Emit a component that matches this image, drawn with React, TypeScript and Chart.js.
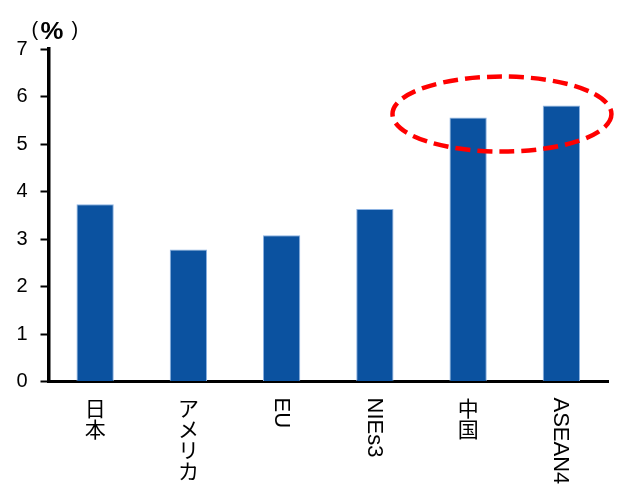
import React, { useEffect, useRef } from "react";
import { Chart, registerables } from "chart.js";

Chart.register(...registerables);

// Regions and their growth rates (%)
const categories = ["日本", "アメリカ", "EU", "NIEs3", "中国", "ASEAN4"];
const growthRates = [3.73, 2.78, 3.08, 3.63, 5.56, 5.81];
const yTickValues = [0, 1, 2, 3, 4, 5, 6, 7];
const unitLabel = ["(", "%", ")"];

// Dashed highlight ring, in data units: centre (category index, value) and radii
const highlightCenter = [4.363, 5.63];
const highlightRadii = [1.174, 0.79];

const LATIN_FONT = "Arial, 'Liberation Sans', sans-serif";
const CJK_FONT = "'Noto Sans CJK JP', sans-serif";

const isCJK = (ch: string) => ch.charCodeAt(0) >= 0x2e80;

const overlayPlugin = {
  id: "overlay",
  afterDatasetsDraw(chart: any) {
    const { ctx, scales } = chart;
    const x = scales.x;
    const y = scales.y;
    const cx = x.getPixelForValue(highlightCenter[0]);
    const cy = y.getPixelForValue(highlightCenter[1]);
    const rx = x.getPixelForValue(highlightCenter[0] + highlightRadii[0]) - cx;
    const ry = cy - y.getPixelForValue(highlightCenter[1] + highlightRadii[1]);
    ctx.save();
    ctx.beginPath();
    ctx.ellipse(cx, cy, rx, ry, 0, 0, Math.PI * 2);
    ctx.setLineDash([15, 7]);
    ctx.lineWidth = 4.5;
    ctx.strokeStyle = "#FF0000";
    ctx.stroke();
    ctx.restore();
  },
  afterDraw(chart: any) {
    const { ctx, chartArea, scales } = chart;
    const x = scales.x;
    ctx.save();
    ctx.fillStyle = "#000";

    // Category labels: CJK characters stacked upright, Latin runs turned clockwise
    const cjkSize = 21;
    const latinSize = 22;
    categories.forEach((label, i) => {
      const px = x.getPixelForValue(i);
      let py = chartArea.bottom + 16;
      let run = "";
      const flush = () => {
        if (!run) return;
        ctx.font = `${latinSize}px ${LATIN_FONT}`;
        const w = ctx.measureText(run).width;
        ctx.save();
        ctx.translate(px, py);
        ctx.rotate(Math.PI / 2);
        ctx.textAlign = "left";
        ctx.textBaseline = "middle";
        ctx.fillText(run, 0, 1);
        ctx.restore();
        py += w;
        run = "";
      };
      for (const ch of label) {
        if (isCJK(ch)) {
          flush();
          ctx.font = `${cjkSize}px ${CJK_FONT}`;
          ctx.textAlign = "center";
          ctx.textBaseline = "top";
          ctx.fillText(ch, px, py);
          py += cjkSize;
        } else {
          run += ch;
        }
      }
      flush();
    });

    // Unit label "(%)" above the value axis
    const left = chartArea.left;
    const top = chartArea.top;
    ctx.textAlign = "left";
    ctx.textBaseline = "alphabetic";
    ctx.font = `20px ${LATIN_FONT}`;
    ctx.fillText(unitLabel[0], left - 17, top - 13);
    ctx.save();
    ctx.translate(left - 8, top - 10);
    ctx.scale(1.12, 1);
    ctx.font = `bold 23px ${LATIN_FONT}`;
    ctx.fillText(unitLabel[1], 0, 0);
    ctx.restore();
    ctx.font = `20px ${LATIN_FONT}`;
    ctx.fillText(unitLabel[2], left + 23, top - 13);
    ctx.restore();
  },
};

export default function App() {
  const canvasRef = useRef<HTMLCanvasElement | null>(null);

  useEffect(() => {
    const canvas = canvasRef.current;
    if (!canvas) return;
    const chart = new Chart(canvas, {
      type: "bar",
      data: {
        labels: categories,
        datasets: [
          {
            data: growthRates,
            backgroundColor: "#0B52A0",
            borderColor: "#8DB3E2",
            borderWidth: 1,
            barPercentage: 0.4,
            categoryPercentage: 1.0,
          },
        ],
      },
      options: {
        animation: false,
        responsive: false,
        devicePixelRatio: 1,
        layout: { padding: { top: 49, right: 9, left: 0, bottom: 0 } },
        plugins: {
          legend: { display: false },
          tooltip: { enabled: false },
        },
        scales: {
          x: {
            grid: { display: false },
            border: { display: true, color: "#000", width: 3 },
            ticks: { display: false },
            afterFit: (s: any) => {
              s.height = 105.5;
            },
          },
          y: {
            min: 0,
            max: 7,
            afterBuildTicks: (s: any) => {
              s.ticks = yTickValues.map((v) => ({ value: v }));
            },
            grid: {
              drawOnChartArea: false,
              drawTicks: true,
              tickLength: 8,
              tickWidth: 2,
              tickColor: "#000",
            },
            border: { display: true, color: "#000", width: 3.5 },
            ticks: {
              color: "#000",
              font: { family: LATIN_FONT, size: 20 },
              padding: 13,
            },
            afterFit: (s: any) => {
              s.width = 48.5;
            },
          },
        },
      },
      plugins: [overlayPlugin],
    });
    return () => chart.destroy();
  }, []);

  return (
    <div style={{ position: "fixed", left: 0, top: 0, width: 617, height: 487, background: "#fff" }}>
      <canvas ref={canvasRef} width={617} height={487} style={{ display: "block" }} />
    </div>
  );
}
